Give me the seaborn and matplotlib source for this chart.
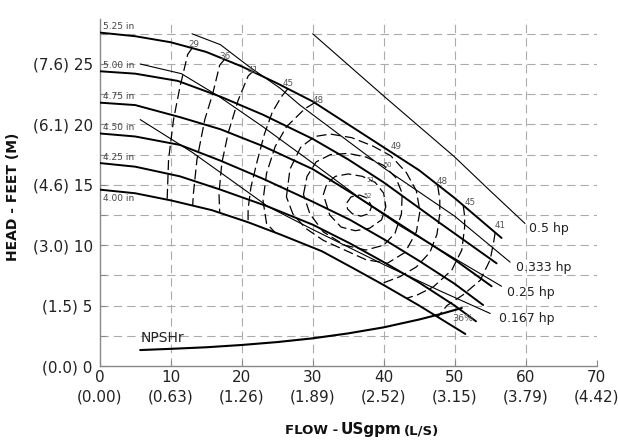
import matplotlib
matplotlib.use("Agg")
import matplotlib.pyplot as plt
import seaborn as sns
import pandas as pd

# ---------------- axis data ----------------
FLOW_TICKS = [0, 10, 20, 30, 40, 50, 60, 70]
FLOW_LPS = ["0.00", "0.63", "1.26", "1.89", "2.52", "3.15", "3.79", "4.42"]
HEAD_TICKS = [0, 5, 10, 15, 20, 25]
HEAD_M = ["0.0", "1.5", "3.0", "4.6", "6.1", "7.6"]
HEAD_MINOR = [2.5, 7.5, 12.5, 17.5, 22.5, 27.5]
GRID_X = [10, 20, 30, 40, 50, 60]
GRID_Y = [2.5, 5, 7.5, 10, 12.5, 15, 17.5, 20, 22.5, 25, 27.5]

# ---------------- impeller head curves (USgpm, ft) ----------------
IMP_NAMES = ["5.25 in", "5.00 in", "4.75 in", "4.50 in", "4.25 in", "4.00 in"]
Q_525 = [0, 5, 10, 15, 20, 25, 30, 35, 40, 45, 50, 53.6, 56.6]
H_525 = [27.6, 27.3, 26.8, 26.0, 24.8, 23.4, 21.9, 20.0, 18.1, 16.2, 13.9, 12.1, 10.6]
Q_500 = [0, 5, 11, 17, 23, 30, 35, 40, 48, 55.9]
H_500 = [24.4, 24.2, 23.6, 22.3, 20.8, 18.8, 17.1, 15.2, 11.8, 8.5]
Q_475 = [0, 5, 11.3, 17, 23, 30, 35.25, 40, 45, 50, 55.2]
H_475 = [21.8, 21.6, 20.6, 19.6, 18.2, 16.3, 14.4, 12.6, 10.7, 8.8, 6.6]
Q_450 = [0, 5, 11.3, 17, 23, 30, 35.25, 40, 45, 50, 54]
H_450 = [19.25, 19.0, 18.3, 17.0, 15.5, 13.6, 12.1, 10.5, 8.7, 6.8, 5.05]
Q_425 = [0, 5, 11.3, 17, 23.7, 30, 35.25, 40, 45, 50, 53]
H_425 = [16.8, 16.5, 15.7, 14.6, 13.2, 11.7, 10.15, 8.6, 6.9, 5.0, 3.7]
Q_400 = [0, 5, 10.1, 15.8, 20.9, 25.6, 31.3, 36, 40, 45, 51.5]
H_400 = [14.6, 14.3, 13.7, 12.9, 11.9, 10.85, 9.5, 8.0, 6.7, 5.0, 2.65]

# ---------------- horsepower lines ----------------
HP_NAMES = ["0.5 hp", "0.333 hp", "0.25 hp", "0.167 hp"]
Q_HP05 = [30, 40, 50, 55, 59.9]
H_HP05 = [27.5, 22.35, 17.3, 14.5, 11.8]
Q_HP0333 = [13, 17, 21, 25.4, 28.2, 40, 50, 57.8]
H_HP0333 = [27.5, 26.6, 24.8, 23.0, 21.6, 16.4, 12.4, 8.6]
Q_HP025 = [5.7, 11.5, 16.7, 23, 30, 37.1, 42.3, 50, 56.6]
H_HP025 = [25.0, 24.2, 22.35, 19.8, 16.8, 13.7, 11.6, 8.9, 6.6]
Q_HP0167 = [5.7, 13, 18, 23.7, 30, 40, 48, 55]
H_HP0167 = [20.4, 17.7, 15.6, 13.2, 11.3, 8.4, 6.2, 4.35]
HP_LABEL_X = [60.45, 58.6, 57.3, 56.2]
HP_LABEL_Y = [11.4, 8.15, 6.08, 3.9]

# ---------------- NPSHr ----------------
Q_NPSH = [5.7, 10, 15, 20, 25, 30, 35, 40, 45, 48, 51]
H_NPSH = [1.32, 1.42, 1.55, 1.74, 1.98, 2.29, 2.7, 3.2, 3.85, 4.3, 4.8]

# ---------------- efficiency contours (%) ----------------
Q_E29L = [13.0, 12.4, 11.3, 10.4, 9.7, 9.5]
H_E29L = [26.3, 25.8, 23.1, 20.4, 17.1, 13.8]
Q_E36L = [17.6, 16.9, 15.9, 14.8, 13.7, 13.2, 13.1]
H_E36L = [25.4, 24.9, 22.5, 20.4, 17.1, 14.3, 13.3]
Q_E41L = [21.6, 20.9, 19.5, 18.1, 17.2, 16.8, 16.9]
H_E41L = [24.4, 24.0, 22.0, 19.3, 16.8, 14.3, 12.7]
Q_E45L = [26.5, 25.6, 24.3, 23.2, 22.2, 21.3, 20.9, 20.9]
H_E45L = [22.95, 22.3, 21.0, 19.2, 17.0, 14.8, 13.0, 11.9]
Q_E48L = [30.3, 28.9, 26.3, 24.7, 23.5, 23.0, 23.5, 24.7]
H_E48L = [21.8, 21.3, 19.8, 18.15, 15.95, 13.7, 11.8, 11.05]
Q_E49 = [26.3, 26.8, 28.3, 30.3, 32.5, 35.5, 38.5, 41.0, 43.2, 44.6, 45.1, 44.6, 43.0, 40.5, 37.5, 34.5, 31.5, 29.0, 27.2, 26.3]
H_E49 = [14.0, 16.3, 18.1, 19.0, 19.2, 18.9, 18.2, 17.4, 16.0, 14.5, 12.8, 11.1, 9.4, 8.5, 8.8, 9.6, 10.4, 11.4, 12.6, 14.0]
Q_E50 = [28.7, 29.2, 30.5, 32.5, 35.0, 37.5, 40.0, 41.7, 42.6, 42.5, 41.6, 40.0, 37.5, 34.5, 31.5, 29.6, 28.7]
H_E50 = [14.2, 15.7, 16.9, 17.5, 17.6, 17.3, 16.6, 15.6, 14.3, 12.6, 11.0, 10.0, 9.6, 10.0, 11.1, 12.6, 14.2]
Q_E51 = [31.5, 32.0, 33.2, 35.0, 37.0, 38.8, 40.0, 40.3, 39.7, 38.0, 36.0, 34.0, 32.4, 31.5]
H_E51 = [14.2, 15.1, 15.7, 15.9, 15.7, 15.2, 14.3, 13.2, 12.1, 11.4, 11.2, 11.5, 12.5, 14.2]
Q_E52 = [34.8, 35.4, 36.6, 37.7, 38.3, 37.9, 36.8, 35.6, 34.9, 34.8]
H_E52 = [13.5, 14.0, 14.15, 13.9, 13.2, 12.6, 12.4, 12.6, 13.0, 13.5]
Q_E48R = [47.6, 47.9, 47.9, 47.5, 46.5, 44.6, 42.3, 39.6]
H_E48R = [14.95, 13.8, 12.6, 10.9, 9.4, 8.2, 7.4, 6.8]
Q_E45R = [51.2, 51.4, 51.4, 51.0, 49.6, 47.0, 44.8, 43.2]
H_E45R = [13.3, 12.4, 11.5, 9.6, 7.95, 6.55, 5.9, 5.6]
Q_E41R = [55.7, 55.5, 55.0, 53.6, 51.2, 48.9, 47.6]
H_E41R = [11.05, 10.3, 8.8, 7.1, 5.9, 5.0, 4.05]

EFF_LABELS = ["29", "36", "41", "45", "48", "49", "48", "45", "41"]
EFF_LX = [13.2, 17.6, 21.6, 26.5, 30.8, 41.7, 48.3, 52.2, 56.4]
EFF_LY = [26.6, 25.6, 24.5, 23.4, 21.95, 18.15, 15.3, 13.5, 11.6]
EFF_SMALL = ["50", "51", "52"]
EFF_SX = [40.6, 38.2, 37.8]
EFF_SY = [16.6, 15.4, 14.1]


def long_df(parts):
    frames = []
    for name, q, h in parts:
        frames.append(pd.DataFrame({"flow": q, "head": h, "curve": name}))
    return pd.concat(frames, ignore_index=True)


imp_df = long_df([
    (IMP_NAMES[0], Q_525, H_525), (IMP_NAMES[1], Q_500, H_500),
    (IMP_NAMES[2], Q_475, H_475), (IMP_NAMES[3], Q_450, H_450),
    (IMP_NAMES[4], Q_425, H_425), (IMP_NAMES[5], Q_400, H_400),
])
hp_df = long_df([
    (HP_NAMES[0], Q_HP05, H_HP05), (HP_NAMES[1], Q_HP0333, H_HP0333),
    (HP_NAMES[2], Q_HP025, H_HP025), (HP_NAMES[3], Q_HP0167, H_HP0167),
])
eff_df = long_df([
    ("29L", Q_E29L, H_E29L), ("36L", Q_E36L, H_E36L), ("41L", Q_E41L, H_E41L),
    ("45L", Q_E45L, H_E45L), ("48L", Q_E48L, H_E48L), ("49", Q_E49, H_E49),
    ("50", Q_E50, H_E50), ("51", Q_E51, H_E51), ("52", Q_E52, H_E52),
    ("48R", Q_E48R, H_E48R), ("45R", Q_E45R, H_E45R), ("41R", Q_E41R, H_E41R),
])
npsh_df = long_df([("NPSHr", Q_NPSH, H_NPSH)])

sns.set_theme(style="white")
plt.rcParams['font.family'] = ['DejaVu Sans']

W, H = 618, 448
fig = plt.figure(figsize=(W / 100, H / 100), dpi=100)
ax_left, ax_right, ax_bottom, ax_top = 99.7, 596.7, 366.0, 19.3
ax = fig.add_axes([ax_left / W, 1 - ax_bottom / H, (ax_right - ax_left) / W, (ax_bottom - ax_top) / H])
ax.set_xlim(0, 70)
ax.set_ylim(0, 28.7)

grid_kw = dict(color="#ababab", lw=0.8, linestyle=(0, (7.5, 4.5)), zorder=0)
for gx in GRID_X:
    ax.axvline(gx, **grid_kw)
for gy in GRID_Y:
    ax.axhline(gy, **grid_kw)

sns.lineplot(data=eff_df, x="flow", y="head", units="curve", estimator=None, sort=False,
             color="black", lw=0.9, linestyle=(0, (8, 3.5)), ax=ax, legend=False, zorder=2)
sns.lineplot(data=hp_df, x="flow", y="head", units="curve", estimator=None, sort=False,
             color="black", lw=0.8, ax=ax, legend=False, zorder=3)
sns.lineplot(data=imp_df, x="flow", y="head", units="curve", estimator=None, sort=False,
             color="black", lw=1.4, ax=ax, legend=False, zorder=4)
sns.lineplot(data=npsh_df, x="flow", y="head", units="curve", estimator=None, sort=False,
             color="black", lw=1.5, ax=ax, legend=False, zorder=4)

# impeller labels
imp_start = [H_525[0], H_500[0], H_475[0], H_450[0], H_425[0], H_400[0]]
for i, (name, h0) in enumerate(zip(IMP_NAMES, imp_start)):
    if i < len(IMP_NAMES) - 1:
        ax.text(0.5, h0 + 0.12, name, fontsize=6.5, color="#444444", ha="left", va="bottom", zorder=6)
    else:
        ax.text(0.5, h0 - 0.35, name, fontsize=6.5, color="#444444", ha="left", va="top", zorder=6)

for lab, lx, ly in zip(EFF_LABELS, EFF_LX, EFF_LY):
    ax.text(lx, ly, lab, fontsize=6.3, color="#555555", ha="center", va="center", zorder=6)
for lab, lx, ly in zip(EFF_SMALL, EFF_SX, EFF_SY):
    ax.text(lx, ly, lab, fontsize=4.8, color="#555555", ha="center", va="center", zorder=6)
ax.text(51.1, 3.95, "36%", fontsize=6.8, color="#555555", ha="center", va="center", zorder=6)

for lab, lx, ly in zip(HP_NAMES, HP_LABEL_X, HP_LABEL_Y):
    ax.text(lx, ly, lab, fontsize=9, color="#222222", ha="left", va="center", zorder=6)

ax.text(5.75, 2.3, "NPSHr", fontsize=10, color="#222222", ha="left", va="center", zorder=6)

# ticks: US gpm row on the main axis, L/s row on a secondary axis below
ax.set_xticks(FLOW_TICKS, labels=[str(q) for q in FLOW_TICKS])
ax.set_yticks(HEAD_TICKS, labels=[f"({m}) {h}" for h, m in zip(HEAD_TICKS, HEAD_M)])
ax.set_yticks(HEAD_MINOR, minor=True)
ax.tick_params(axis="both", which="both", direction="in", length=4, width=0.8, color="#888888",
               bottom=True, left=True, top=False, right=False)
ax.tick_params(axis="both", which="major", labelsize=11, labelcolor="#222222")
ax.tick_params(axis="x", which="major", pad=3)
ax.tick_params(axis="y", which="major", pad=5)
ax.set_xlabel("")
ax.set_ylabel("")

sec = ax.secondary_xaxis("bottom")
sec.set_xticks(FLOW_TICKS, labels=[f"({l})" for l in FLOW_LPS])
sec.tick_params(axis="x", length=0, pad=17, labelsize=11, labelcolor="#222222")
sec.spines["bottom"].set_visible(False)

sns.despine(ax=ax)
for side in ("left", "bottom"):
    ax.spines[side].set_color("#888888")
    ax.spines[side].set_linewidth(1.0)

# axis titles
fig.text(13 / W, 1 - 197 / H, "HEAD - FEET (M)", rotation=90, fontsize=10, fontweight="bold",
         color="#111111", ha="center", va="center")
base_y = 1 - 434 / H
fig.text(338 / W, base_y, "FLOW -", fontsize=9.5, fontweight="bold", color="#111111", ha="right", va="baseline")
fig.text(341 / W, base_y, "USgpm", fontsize=11, fontweight="bold", color="#111111", ha="left", va="baseline")
fig.text(404 / W, base_y, "(L/S)", fontsize=9.5, fontweight="bold", color="#111111", ha="left", va="baseline")

fig.savefig("out.png", dpi=100)
